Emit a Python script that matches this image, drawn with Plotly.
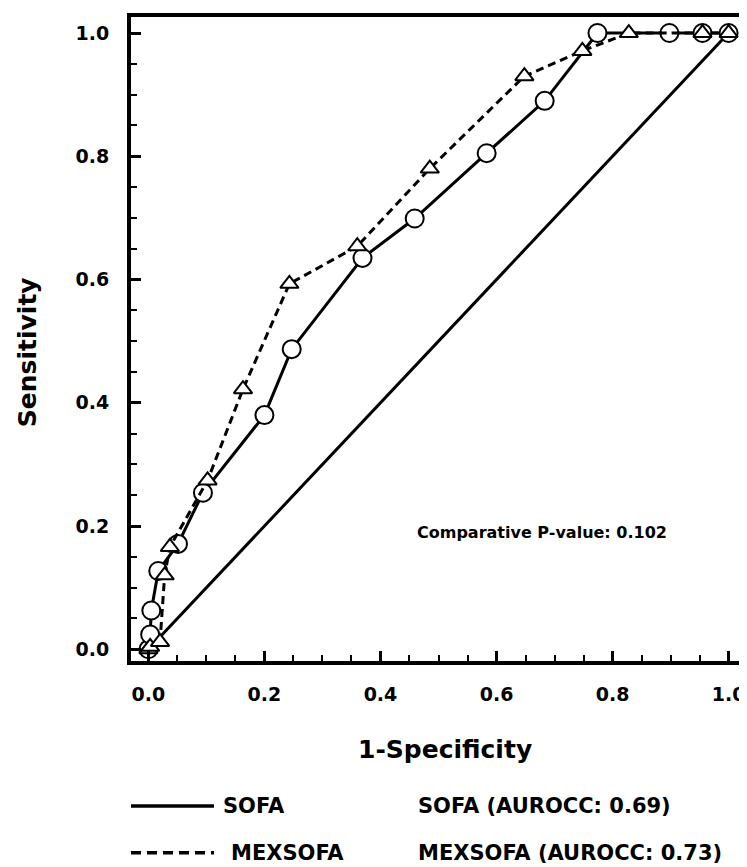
import plotly.graph_objects as go

# ROC data
sofa_fpr = [0.0, 0.003, 0.005, 0.017, 0.051, 0.094, 0.200, 0.247, 0.369, 0.459, 0.583, 0.683, 0.774, 0.898, 0.955, 1.0]
sofa_tpr = [0.0, 0.024, 0.063, 0.127, 0.171, 0.254, 0.380, 0.487, 0.635, 0.699, 0.805, 0.890, 1.0, 1.0, 1.0, 1.0]

mex_fpr = [0.0, 0.003, 0.020, 0.028, 0.037, 0.102, 0.163, 0.243, 0.360, 0.485, 0.648, 0.748, 0.828, 0.955, 1.0]
mex_tpr = [0.0, 0.004, 0.012, 0.120, 0.166, 0.274, 0.422, 0.593, 0.654, 0.780, 0.930, 0.971, 1.0, 1.0, 1.0]

ref_x = [0.0, 1.0]
ref_y = [0.0, 1.0]

tick_vals = [0.0, 0.2, 0.4, 0.6, 0.8, 1.0]
tick_text = ["0.0", "0.2", "0.4", "0.6", "0.8", "1.0"]

legend_names = ["SOFA", "MEXSOFA"]
legend_auc = ["SOFA (AUROCC: 0.69)", "MEXSOFA (AUROCC: 0.73)"]
p_text = "Comparative P-value: 0.102"

FONT = "DejaVu Sans"

fig = go.Figure()
fig.add_trace(go.Scatter(x=ref_x, y=ref_y, mode="lines",
                         line=dict(color="black", width=3), showlegend=False))
fig.add_trace(go.Scatter(x=sofa_fpr, y=sofa_tpr, mode="lines+markers",
                         line=dict(color="black", width=3),
                         marker=dict(symbol="circle", size=18, color="white",
                                     line=dict(color="black", width=2)),
                         showlegend=False))
fig.add_trace(go.Scatter(x=mex_fpr, y=mex_tpr, mode="lines+markers",
                         line=dict(color="black", width=3, dash="8px,5px"),
                         marker=dict(symbol="triangle-up", size=16, color="white",
                                     line=dict(color="black", width=2)),
                         showlegend=False))

axis_common = dict(
    showgrid=False, zeroline=False,
    showline=True, linecolor="black", linewidth=4, mirror=True,
    ticks="inside", ticklen=10, tickwidth=3, tickcolor="black",
    tickvals=tick_vals, ticktext=tick_text,
    tickfont=dict(family=FONT, size=19, color="black", weight="bold"),
    minor=dict(ticks="inside", ticklen=6, tickwidth=2, tickcolor="black", dtick=0.05, tick0=0),
)

fig.update_layout(
    width=747, height=867,
    margin=dict(l=123, r=6, t=5, b=214),
    paper_bgcolor="white", plot_bgcolor="white",
    xaxis=dict(range=[-0.03, 1.03], ticklabelstandoff=13, **axis_common),
    yaxis=dict(range=[-0.019, 1.026], ticklabelstandoff=14, **axis_common),
)

title_font = dict(family=FONT, size=25, color="black", weight="bold")
fig.add_annotation(text="1-Specificity", xref="paper", yref="paper",
                   x=0.51, y=-0.137, showarrow=False, font=title_font,
                   xanchor="center", yanchor="middle")
fig.add_annotation(text="Sensitivity", xref="paper", yref="paper",
                   x=-0.167, y=0.48, showarrow=False, font=title_font,
                   textangle=-90, xanchor="center", yanchor="middle")

fig.add_annotation(text=p_text, xref="x", yref="y", x=0.46, y=0.19,
                   showarrow=False, xanchor="left", yanchor="middle",
                   font=dict(family=FONT, size=16, color="black", weight="bold"))

leg_font = dict(family=FONT, size=21, color="black", weight="bold")
row_y = [-0.2253, -0.2978]
dashes = ["solid", "10px,6px"]
name_x = [0.1456, 0.160]
for i in range(2):
    fig.add_shape(type="line", xref="paper", yref="paper",
                  x0=0.0, x1=0.135, y0=row_y[i], y1=row_y[i],
                  line=dict(color="black", width=3.5, dash=dashes[i]))
    fig.add_annotation(text=legend_names[i], xref="paper", yref="paper",
                       x=name_x[i], y=row_y[i], showarrow=False,
                       xanchor="left", yanchor="middle", font=leg_font)
    fig.add_annotation(text=legend_auc[i], xref="paper", yref="paper",
                       x=0.4628, y=row_y[i], showarrow=False,
                       xanchor="left", yanchor="middle", font=leg_font)

fig.write_html("out.html")
